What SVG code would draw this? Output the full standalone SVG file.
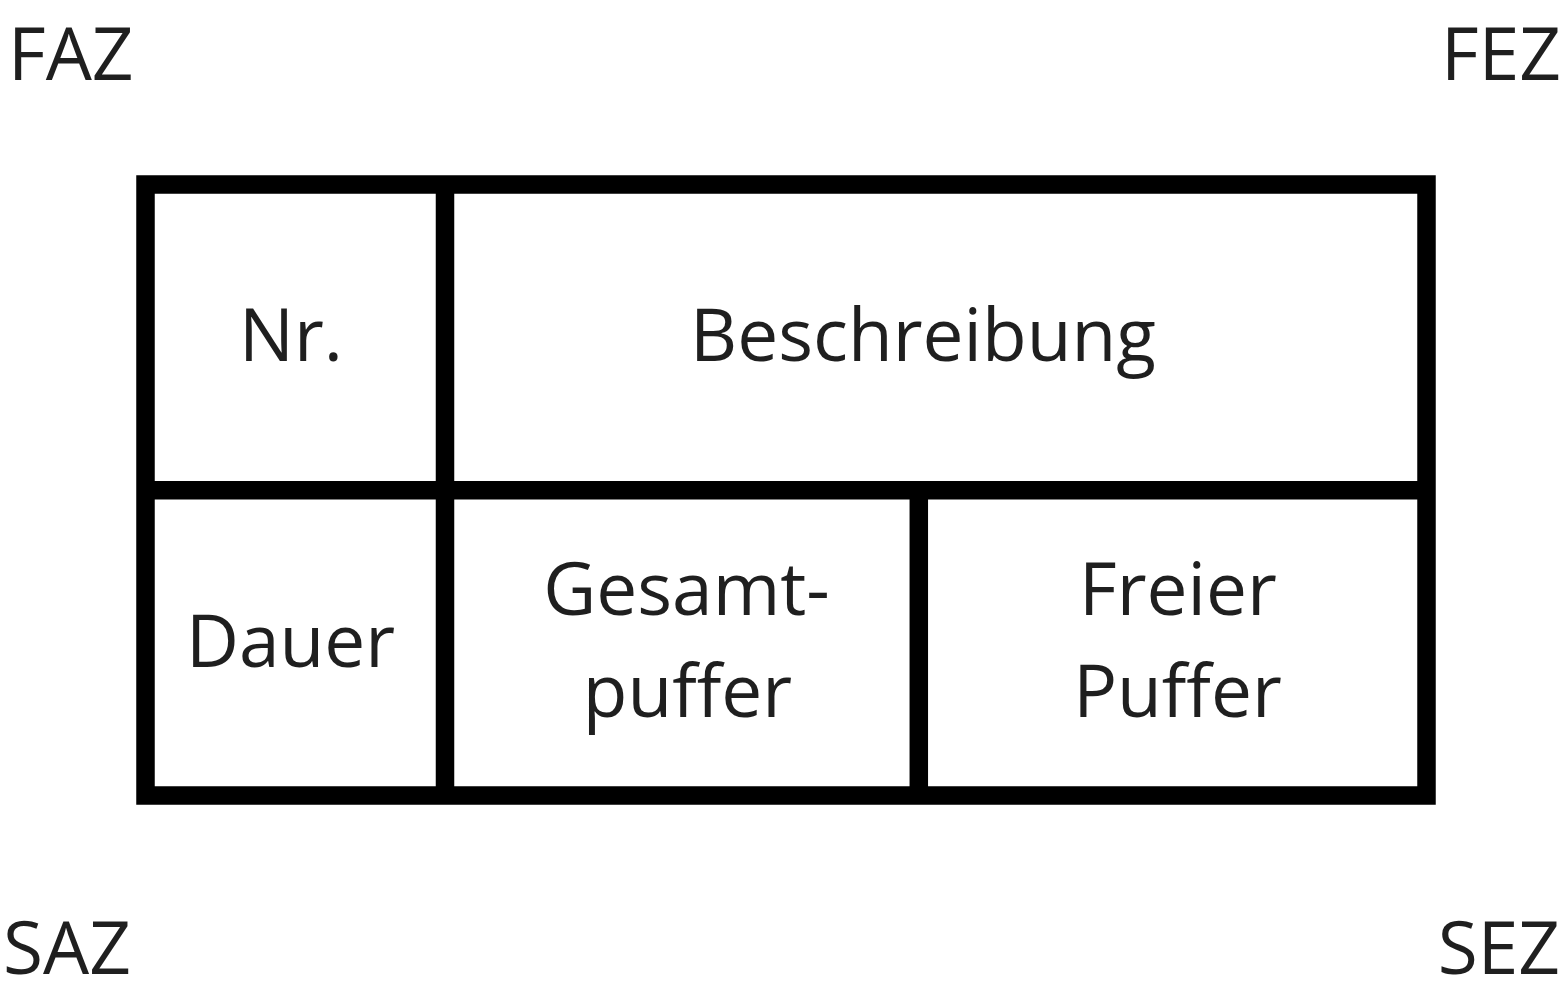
<svg xmlns="http://www.w3.org/2000/svg" width="1563" height="999" viewBox="0 0 1563 999">
  <style>
    .line { fill: none; stroke: #000000; stroke-width: 18.5; }
    .lbl { font-family: "Open Sans", "Noto Sans", "Liberation Sans", sans-serif; font-size: 73px; fill: #1f1f1f; }
    .mid { text-anchor: middle; }
    .end { text-anchor: end; }
  </style>
  <rect x="0" y="0" width="1563" height="999" fill="#ffffff"/>
  <g id="connectors"></g>
  <g id="table">
    <line class="line" x1="445" y1="184.5" x2="445" y2="795.5"/>
    <line class="line" x1="145.5" y1="490.3" x2="1426.5" y2="490.3"/>
    <line class="line" x1="918.8" y1="490.3" x2="918.8" y2="795.5"/>
    <rect class="line" x="145.5" y="184.5" width="1281" height="611"/>
  </g>
  <g id="nr"><text class="lbl mid" x="291" y="361">Nr.</text></g>
  <g id="beschreibung"><text class="lbl mid" x="923" y="361">Beschreibung</text></g>
  <g id="dauer"><text class="lbl mid" x="290.5" y="667">Dauer</text></g>
  <g id="gesamtpuffer">
    <text class="lbl mid" x="686.5" y="615">Gesamt-</text>
    <text class="lbl mid" x="687.5" y="717">puffer</text>
  </g>
  <g id="freierpuffer">
    <text class="lbl mid" x="1178" y="615">Freier</text>
    <text class="lbl mid" x="1177.5" y="717">Puffer</text>
  </g>
  <g id="faz"><text class="lbl" x="8" y="80">FAZ</text></g>
  <g id="fez"><text class="lbl end" x="1561" y="80">FEZ</text></g>
  <g id="saz"><text class="lbl" x="3" y="974">SAZ</text></g>
  <g id="sez"><text class="lbl end" x="1560" y="974">SEZ</text></g>
</svg>
